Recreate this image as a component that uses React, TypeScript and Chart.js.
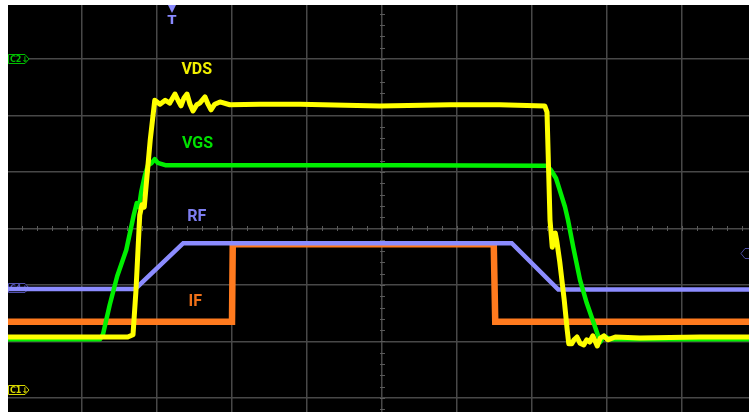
import { useEffect, useRef } from "react";
import { Chart, registerables } from "chart.js";

Chart.register(...registerables);

// Horizontal axis: time in screen divisions; vertical axis: level in divisions (0 = centre line)
const vdsX = [0, 0.71, 1.61, 1.68, 1.72, 1.77, 1.8, 1.83, 1.85, 1.91, 1.97, 2.04, 2.11, 2.17, 2.24, 2.28, 2.32, 2.36, 2.4, 2.44, 2.48, 2.53, 2.57, 2.64, 2.68, 2.72, 2.77, 2.84, 2.97, 3.37, 3.91, 4.97, 5.91, 6.57, 7.17, 7.2, 7.24, 7.27, 7.31, 7.33, 7.37, 7.43, 7.47, 7.49, 7.53, 7.56, 7.6, 7.64, 7.69, 7.73, 7.77, 7.81, 7.87, 7.91, 7.96, 8.01, 8.11, 8.44, 9.24, 10];
const vdsY = [-1.92, -1.92, -1.92, -1.88, -1.09, 0.24, 0.42, 0.38, 0.68, 1.57, 2.27, 2.2, 2.27, 2.22, 2.38, 2.27, 2.17, 2.31, 2.38, 2.2, 2.08, 2.19, 2.22, 2.33, 2.2, 2.1, 2.2, 2.24, 2.19, 2.2, 2.2, 2.17, 2.19, 2.19, 2.17, 2.06, 0.15, -0.33, -0.08, -0.22, -0.59, -1.27, -1.8, -2.04, -2.04, -1.97, -1.92, -2.03, -2.06, -1.97, -2.01, -1.9, -2.08, -1.94, -1.9, -1.97, -1.92, -1.94, -1.92, -1.92];

const vgsX = [0, 1.24, 1.28, 1.37, 1.47, 1.59, 1.69, 1.73, 1.76, 1.79, 1.84, 1.88, 1.93, 1.97, 2.01, 2.11, 3.24, 5.24, 7.2, 7.25, 7.32, 7.37, 7.44, 7.48, 7.55, 7.64, 7.73, 7.84, 7.91, 7.96, 8.04, 10];
const vgsY = [-1.96, -1.96, -1.87, -1.35, -0.84, -0.38, 0.24, 0.45, 0.38, 0.65, 0.95, 1.12, 1.16, 1.23, 1.16, 1.12, 1.12, 1.12, 1.11, 1.04, 0.89, 0.68, 0.38, 0.15, -0.33, -0.91, -1.32, -1.74, -2.01, -1.9, -1.96, -1.96];

const rfX = [0, 1.71, 2.35, 6.73, 7.35, 10];
const rfY = [-1.07, -1.07, -0.26, -0.26, -1.08, -1.08];

const ifX = [0, 3.0, 3.01, 6.49, 6.51, 10];
const ifY = [-1.65, -1.65, -0.28, -0.28, -1.65, -1.65];

const seriesNames = ["VDS", "VGS", "RF", "IF"];
const labelX = [2.53, 2.54, 2.53, 2.51];
const labelY = [2.82, 1.52, 0.22, -1.29];

const gridXTicks = [1, 2, 3, 4, 5, 6, 7, 8, 9];
const gridYTicks = [-3, -2, -1, 0, 1, 2, 3];

const triggerX = 2.2;
const tagNames = ["C2\u2193", "C4\u2193", "C1\u2193"];
const tagLevels = [3.0, -1.05, -2.86];
const sideMarkerLevel = -0.43;

const COLORS = {
  vds: "#ffff00",
  vgs: "#00f000",
  rf: "#8c8cff",
  if: "#ff7a1e",
};
const labelColors = ["#f2f000", "#00e000", "#7e7ef0", "#f07018"];
const tagColors = ["#00c000", "#5050b0", "#d8d800"];

const toPoints = (xs: number[], ys: number[]) => xs.map((x, i) => ({ x, y: ys[i] }));

export default function App() {
  const ref = useRef<HTMLCanvasElement | null>(null);

  useEffect(() => {
    const canvas = ref.current;
    if (!canvas) return;

    const bgPlugin = {
      id: "scopeBg",
      beforeDraw(chart: any) {
        const { ctx } = chart;
        ctx.save();
        ctx.fillStyle = "#000";
        ctx.fillRect(0, 0, chart.width, chart.height);
        ctx.restore();
      },
      beforeDatasetsDraw(chart: any) {
        const { ctx, scales } = chart;
        const xs = scales.x;
        const ys = scales.y;
        ctx.save();
        // minor ticks on centre lines
        ctx.strokeStyle = "#5a5a5a";
        ctx.lineWidth = 1;
        const cx = Math.round(xs.getPixelForValue(5));
        const cy = Math.round(ys.getPixelForValue(0));
        for (let v = -4; v <= 4.001; v += 0.2) {
          const py = Math.round(ys.getPixelForValue(v)) + 0.5;
          ctx.beginPath();
          ctx.moveTo(cx - 2, py);
          ctx.lineTo(cx + 3, py);
          ctx.stroke();
        }
        for (let v = 0; v <= 10.001; v += 0.2) {
          const px = Math.round(xs.getPixelForValue(v)) + 0.5;
          ctx.beginPath();
          ctx.moveTo(px, cy - 2);
          ctx.lineTo(px, cy + 3);
          ctx.stroke();
        }
        // channel tags on the left
        tagNames.forEach((name, i) => {
          const py = Math.round(ys.getPixelForValue(tagLevels[i]));
          const x0 = 0.5;
          const x1 = 17;
          const x2 = 21;
          ctx.beginPath();
          ctx.moveTo(x0, py - 4.5);
          ctx.lineTo(x1, py - 4.5);
          ctx.lineTo(x2, py);
          ctx.lineTo(x1, py + 4.5);
          ctx.lineTo(x0, py + 4.5);
          ctx.closePath();
          ctx.fillStyle = "#000";
          ctx.fill();
          ctx.strokeStyle = tagColors[i];
          ctx.lineWidth = 1;
          ctx.stroke();
          ctx.fillStyle = tagColors[i];
          ctx.font = "bold 8px 'DejaVu Sans'";
          ctx.textBaseline = "middle";
          ctx.textAlign = "left";
          ctx.fillText(name, 2, py + 0.5);
        });
        // right side marker
        const my = Math.round(ys.getPixelForValue(sideMarkerLevel)) + 0.5;
        const rx = chart.width;
        ctx.beginPath();
        ctx.moveTo(rx + 1, my - 5);
        ctx.lineTo(rx - 4, my - 5);
        ctx.lineTo(rx - 8, my);
        ctx.lineTo(rx - 4, my + 5);
        ctx.lineTo(rx + 1, my + 5);
        ctx.strokeStyle = "#4a4aa0";
        ctx.lineWidth = 1;
        ctx.stroke();
        ctx.restore();
      },
      afterDatasetsDraw(chart: any) {
        const { ctx, scales } = chart;
        const xs = scales.x;
        const ys = scales.y;
        ctx.save();
        ctx.font = "bold 16px Roboto";
        ctx.textAlign = "center";
        ctx.textBaseline = "middle";
        seriesNames.forEach((name, i) => {
          ctx.fillStyle = labelColors[i];
          ctx.fillText(name, xs.getPixelForValue(labelX[i]), ys.getPixelForValue(labelY[i]) + 1);
        });
        // trigger marker
        const tx = xs.getPixelForValue(triggerX);
        ctx.fillStyle = "#8a8aff";
        ctx.beginPath();
        ctx.moveTo(tx - 4, 0);
        ctx.lineTo(tx + 4, 0);
        ctx.lineTo(tx, 8);
        ctx.closePath();
        ctx.fill();
        ctx.font = "bold 13px 'DejaVu Sans'";
        ctx.textBaseline = "top";
        ctx.fillText("T", tx, 9);
        ctx.restore();
      },
    };

    const xMin = 1 / 75;
    const xMax = xMin + 741 / 75;
    const yMax = 223.5 / 56.5;
    const yMin = (223.5 - 407) / 56.5;

    const chart = new Chart(canvas, {
      type: "line",
      data: {
        datasets: [
          {
            label: "VDS",
            data: toPoints(vdsX, vdsY),
            borderColor: COLORS.vds,
            borderWidth: 5,
            pointRadius: 0,
            borderJoinStyle: "round",
            borderCapStyle: "round",
          },
          {
            label: "VGS",
            data: toPoints(vgsX, vgsY),
            borderColor: COLORS.vgs,
            borderWidth: 4.5,
            pointRadius: 0,
            borderJoinStyle: "round",
          },
          {
            label: "RF",
            data: toPoints(rfX, rfY),
            borderColor: COLORS.rf,
            borderWidth: 4.5,
            pointRadius: 0,
            borderJoinStyle: "miter",
          },
          {
            label: "IF",
            data: toPoints(ifX, ifY),
            borderColor: COLORS.if,
            borderWidth: 6.5,
            pointRadius: 0,
            borderJoinStyle: "miter",
          },
        ],
      },
      options: {
        animation: false,
        responsive: false,
        maintainAspectRatio: false,
        layout: { padding: 0 },
        plugins: {
          legend: { display: false },
          tooltip: { enabled: false },
        },
        elements: { line: { tension: 0 } },
        scales: {
          x: {
            type: "linear",
            min: xMin,
            max: xMax,
            afterBuildTicks: (scale: any) => {
              scale.ticks = gridXTicks.map((v) => ({ value: v }));
            },
            ticks: { display: false },
            grid: { color: "#484848", lineWidth: 1.5, drawTicks: false },
            border: { display: false },
          },
          y: {
            type: "linear",
            min: yMin,
            max: yMax,
            afterBuildTicks: (scale: any) => {
              scale.ticks = gridYTicks.map((v) => ({ value: v }));
            },
            ticks: { display: false },
            grid: { color: "#484848", lineWidth: 1.5, drawTicks: false },
            border: { display: false },
          },
        },
      },
      plugins: [bgPlugin],
    } as any);

    return () => chart.destroy();
  }, []);

  return (
    <div style={{ position: "absolute", left: 8, top: 5, width: 741, height: 407 }}>
      <canvas ref={ref} width={741} height={407} style={{ display: "block", background: "#000" }} />
    </div>
  );
}
